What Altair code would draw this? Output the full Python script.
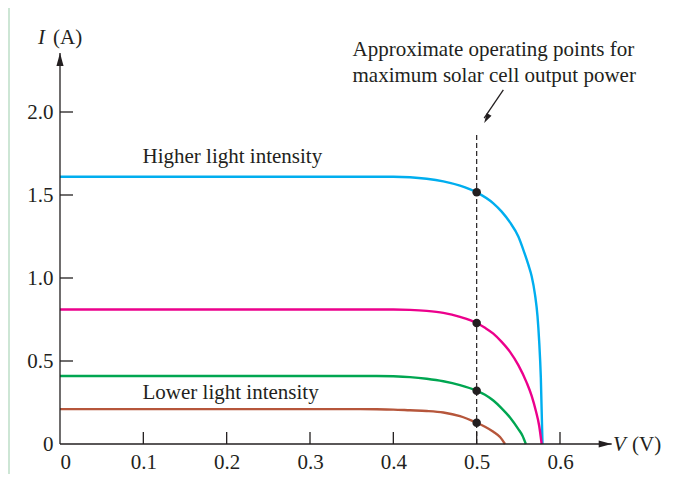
import altair as alt
import pandas as pd

# ---------------- data ----------------
series_names = ["higher", "second", "third", "lower"]
series_colors = ["#00aeef", "#ec008c", "#00a651", "#b6563b"]

higher_v = [0.0, 0.10, 0.20, 0.30, 0.40, 0.42, 0.44, 0.46, 0.48, 0.50, 0.52, 0.53, 0.54, 0.55, 0.556, 0.562, 0.566, 0.570, 0.573, 0.575, 0.577, 0.579]
higher_i = [1.61, 1.61, 1.61, 1.61, 1.61, 1.607, 1.598, 1.582, 1.556, 1.516, 1.45, 1.40, 1.335, 1.25, 1.17, 1.08, 1.01, 0.90, 0.77, 0.62, 0.40, 0.0]

second_v = [0.0, 0.10, 0.20, 0.30, 0.40, 0.42, 0.44, 0.46, 0.48, 0.50, 0.51, 0.52, 0.53, 0.54, 0.55, 0.56, 0.566, 0.571, 0.575, 0.578]
second_i = [0.81, 0.81, 0.81, 0.81, 0.81, 0.808, 0.802, 0.79, 0.766, 0.729, 0.70, 0.665, 0.615, 0.555, 0.475, 0.37, 0.29, 0.20, 0.11, 0.0]

third_v = [0.0, 0.10, 0.20, 0.30, 0.38, 0.40, 0.42, 0.44, 0.46, 0.48, 0.50, 0.51, 0.52, 0.53, 0.54, 0.55, 0.555, 0.559]
third_i = [0.41, 0.41, 0.41, 0.41, 0.41, 0.408, 0.403, 0.393, 0.378, 0.355, 0.321, 0.297, 0.262, 0.215, 0.16, 0.09, 0.05, 0.0]

lower_v = [0.0, 0.10, 0.20, 0.30, 0.36, 0.38, 0.40, 0.42, 0.44, 0.46, 0.48, 0.50, 0.51, 0.52, 0.528, 0.534]
lower_i = [0.21, 0.21, 0.21, 0.21, 0.21, 0.209, 0.207, 0.203, 0.199, 0.19, 0.168, 0.128, 0.104, 0.074, 0.042, 0.0]

op_v = [0.5, 0.5, 0.5, 0.5]
op_i = [1.516, 0.729, 0.321, 0.128]

x_tick_values = [0.1, 0.2, 0.3, 0.4, 0.5, 0.6]
x_label_values = [0.0, 0.1, 0.2, 0.3, 0.4, 0.5, 0.6]
y_tick_values = [0.5, 1.0, 1.5, 2.0]
y_label_values = [0.0, 0.5, 1.0, 1.5, 2.0]

x_axis_end = 0.662
y_axis_end = 2.355
dash_top = 1.873

note_lines = ["Approximate operating points for", "maximum solar cell output power"]
note_v = [0.351, 0.351]
note_i = [2.337, 2.183]
note_arrow_from = (0.532, 2.133)
note_arrow_to = (0.509, 1.933)

curve_labels = ["Higher light intensity", "Lower light intensity"]
curve_label_v = [0.099, 0.099]
curve_label_i = [1.69, 0.269]

# ---------------- build tables ----------------
rows = []
for name, vs, is_ in [("higher", higher_v, higher_i), ("second", second_v, second_i),
                      ("third", third_v, third_i), ("lower", lower_v, lower_i)]:
    for k, (v, i) in enumerate(zip(vs, is_)):
        rows.append({"series": name, "V": v, "I": i, "k": k})
curves = pd.DataFrame(rows)

W, H = 600, 415
xs = alt.Scale(domain=[0, 0.72], nice=False, zero=False)
ys = alt.Scale(domain=[0, 2.5], nice=False, zero=False)
AX = "#231f20"
FONT = "Liberation Serif"
FS = 21

x_axis = alt.Axis(values=x_label_values, domain=False, ticks=False, tickSize=0, grid=False,
                  labelPadding=7, labelFont=FONT, labelFontSize=FS, labelColor=AX,
                  labelExpr="datum.value == 0 ? '0' : format(datum.value, '.1f')", title=None)
y_axis = alt.Axis(values=y_label_values, domain=False, ticks=False, tickSize=0, grid=False,
                  labelPadding=7, labelFont=FONT, labelFontSize=FS, labelColor=AX,
                  labelExpr="datum.value == 0 ? '0' : format(datum.value, '.1f')", title=None)


def X(f="V"):
    return alt.X(f + ":Q", scale=xs, axis=x_axis)


def Y(f="I"):
    return alt.Y(f + ":Q", scale=ys, axis=y_axis)


lines = alt.Chart(curves).mark_line(strokeWidth=2.4, interpolate="monotone").encode(
    x=X(), y=Y(),
    color=alt.Color("series:N", scale=alt.Scale(domain=series_names, range=series_colors), legend=None),
    order="k:Q",
)

axes_df = pd.DataFrame({"V": [0.0, 0.0], "V2": [x_axis_end, 0.0], "I": [0.0, 0.0], "I2": [0.0, y_axis_end]})
axis_lines = alt.Chart(axes_df).mark_rule(color=AX, strokeWidth=1.3).encode(
    x=X(), x2="V2:Q", y=Y(), y2="I2:Q")

arrows_df = pd.DataFrame({"V": [0.0, x_axis_end, note_arrow_to[0]],
                          "I": [y_axis_end, 0.0, note_arrow_to[1]],
                          "ang": [0, 90, 209.7],
                          "sz": [169, 169, 100]})
arrows = alt.Chart(arrows_df).mark_point(shape="M0,0L0.55,2L-0.55,2Z", filled=True, color=AX,
                                         opacity=1, strokeWidth=0).encode(
    x=X(), y=Y(), angle=alt.Angle("ang:Q", scale=None), size=alt.Size("sz:Q", scale=None))

yt = pd.DataFrame({"I": y_tick_values})
y_ticks = alt.Chart(yt).mark_rule(color=AX, strokeWidth=1.3).encode(
    y=Y(), x=alt.value(0), x2=alt.value(13))

xt = pd.DataFrame({"V": x_tick_values, "I": [0.0] * len(x_tick_values)})
x_ticks = alt.Chart(xt).mark_rule(color=AX, strokeWidth=1.3).encode(
    x=X(), y=Y(), y2=alt.value(H - 12))

dash_df = pd.DataFrame({"V": [0.5], "I": [0.0], "I2": [dash_top]})
dash = alt.Chart(dash_df).mark_rule(color=AX, strokeWidth=1.2, strokeDash=[5, 3]).encode(
    x=X(), y=Y(), y2="I2:Q")

op_df = pd.DataFrame({"V": op_v, "I": op_i})
ops = alt.Chart(op_df).mark_point(filled=True, size=72, color=AX, opacity=1, strokeWidth=0).encode(
    x=X(), y=Y())

na_df = pd.DataFrame({"V": [note_arrow_from[0]], "V2": [note_arrow_to[0]],
                      "I": [note_arrow_from[1]], "I2": [note_arrow_to[1] + 0.03]})
note_arrow = alt.Chart(na_df).mark_rule(color=AX, strokeWidth=1.3).encode(
    x=X(), x2="V2:Q", y=Y(), y2="I2:Q")

txt_df = pd.DataFrame({"V": note_v + curve_label_v, "I": note_i + curve_label_i,
                       "t": note_lines + curve_labels})
texts = alt.Chart(txt_df).mark_text(font=FONT, fontSize=FS, align="left", baseline="alphabetic",
                                    color=AX).encode(x=X(), y=Y(), text="t:N")

ax_name_df = pd.DataFrame({"V": [-0.0264, 0.6636], "I": [2.41, -0.042], "t": ["I", "V"]})
ax_names_it = alt.Chart(ax_name_df).mark_text(font=FONT, fontSize=FS, fontStyle="italic", align="left",
                                              baseline="alphabetic", color=AX).encode(x=X(), y=Y(), text="t:N")
ax_unit_df = pd.DataFrame({"V": [-0.0084, 0.6864], "I": [2.41, -0.042], "t": ["(A)", "(V)"]})
ax_units = alt.Chart(ax_unit_df).mark_text(font=FONT, fontSize=FS, align="left",
                                           baseline="alphabetic", color=AX).encode(x=X(), y=Y(), text="t:N")

frame = alt.Chart(pd.DataFrame({"a": [0]})).mark_rect(color="#cde6d5").encode(
    x=alt.value(-52), x2=alt.value(-50), y=alt.value(-21), y2=alt.value(H + 30))

chart = alt.layer(
    frame, dash, lines, axis_lines, y_ticks, x_ticks, arrows, ops, note_arrow, texts, ax_names_it, ax_units
).properties(
    width=W, height=H,
    autosize=alt.AutoSizeParams(type="none"),
    padding={"left": 52, "top": 21, "right": 10, "bottom": 30},
    background="white",
).configure_view(stroke=None)

chart.save("out.html", embed_options={"renderer": "svg", "actions": False})
